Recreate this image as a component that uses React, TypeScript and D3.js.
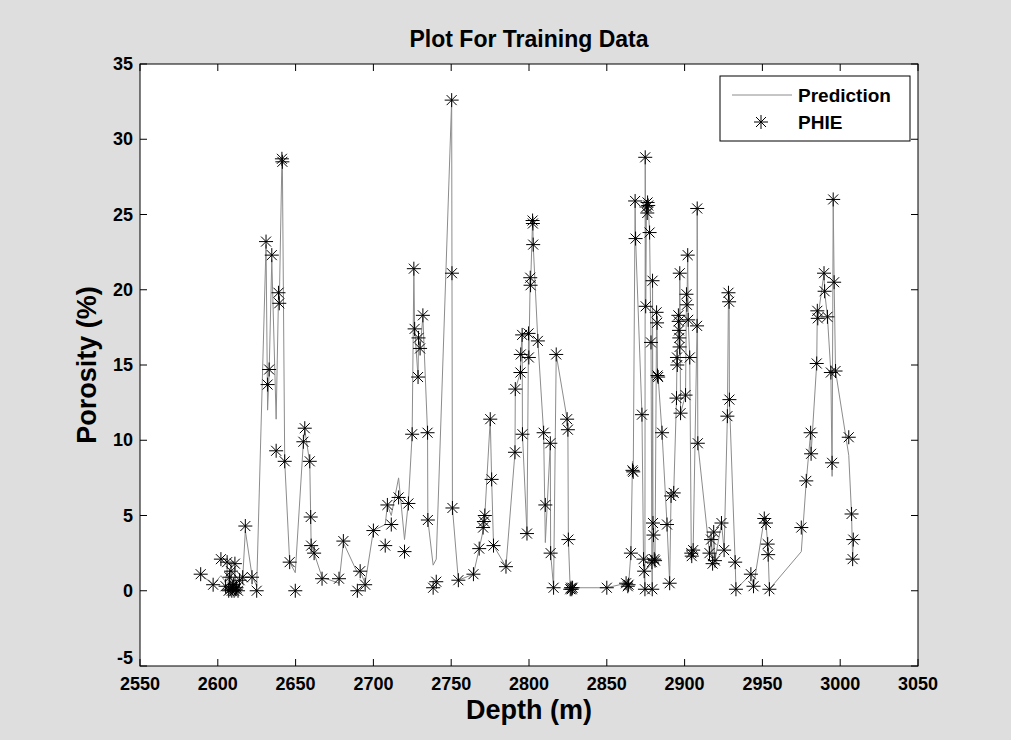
import React from "react";
import * as d3 from "d3";

// Depth (m), measured porosity (PHIE, %) and predicted porosity (%)
const depth = [
  2589, 2597, 2602, 2605, 2606, 2607, 2607.5, 2608, 2608.5, 2609, 2609.5, 2610, 2610.5, 2611, 2611.5, 2612, 2613, 2614, 2616, 2617.7,
  2622, 2625, 2631, 2632, 2633, 2634.7, 2637.5, 2639, 2639.5, 2641.2, 2641.5, 2643, 2646.2, 2649.8, 2655, 2655.9, 2659.1, 2659.7, 2660, 2661.9,
  2667, 2677.9, 2680.7, 2689.7, 2691.5, 2694.7, 2700, 2707.6, 2709, 2711.5, 2716.2, 2720, 2722.5, 2724.9, 2726, 2726.5, 2728.7, 2729, 2730, 2731.8,
  2734.8, 2735, 2738.4, 2740.4, 2750.3, 2750.5, 2750.8, 2754.6, 2764.3, 2768, 2770.5, 2771, 2771.6, 2775.1, 2776, 2777.2, 2785.2, 2791, 2791.2, 2794.5,
  2794.7, 2795.6, 2795.8, 2798.7, 2799.7, 2799.9, 2800.8, 2801, 2802.3, 2802.5, 2802.7, 2805.7, 2809.4, 2810.5, 2813.7, 2813.9, 2815.8, 2817.5, 2824.5, 2825,
  2825.3, 2826.5, 2827, 2827.5, 2828, 2850, 2862.4, 2863.5, 2864, 2865.5, 2866.5, 2867, 2868.2, 2868.5, 2872.6, 2873.6, 2874, 2874.5, 2874.7, 2875,
  2875.5, 2876, 2876.2, 2876.6, 2877.5, 2878.4, 2879, 2879.2, 2879.4, 2879.7, 2880, 2880.5, 2881, 2882, 2882.3, 2882.6, 2883, 2885.5, 2888.7, 2890.4,
  2891.3, 2893, 2894.8, 2895.1, 2895.3, 2896, 2896.2, 2896.4, 2896.6, 2896.8, 2896.9, 2897.4, 2900.6, 2901.2, 2901.5, 2902, 2902.3, 2903.3, 2904.3, 2904.6,
  2905.5, 2908, 2908.1, 2908.5, 2916, 2917, 2918, 2918.7, 2919.5, 2923.7, 2925.4, 2927.5, 2928.2, 2928.6, 2928.8, 2932.5, 2933, 2942.6, 2944.3, 2951.2,
  2952.3, 2953.4, 2953.7, 2954.5, 2975, 2978.2, 2981, 2981.3, 2984.9, 2985.3, 2985.6, 2989.6, 2990, 2991.8, 2994, 2994.8, 2995.5, 2996.1, 2997, 3005.5,
  3007.3, 3008, 3008.4,
];

const phie = [
  1.1, 0.4, 2.1, 0.3, 1.9, 0.0, 0.9, 0.1, 1.3, 0.0, 0.2, 0.4, 0.0, 1.8, 0.1, 0.2, 0.0, 0.7, 0.9, 4.3,
  0.9, 0.0, 23.2, 13.7, 14.7, 22.3, 9.3, 19.8, 19.1, 28.7, 28.5, 8.6, 1.9, 0.0, 9.9, 10.8, 8.6, 4.9, 3.0, 2.5,
  0.8, 0.8, 3.3, 0.0, 1.3, 0.4, 4.0, 3.0, 5.7, 4.4, 6.2, 2.6, 5.8, 10.4, 21.4, 17.4, 14.2, 16.8, 16.1, 18.3,
  10.5, 4.7, 0.2, 0.6, 32.6, 21.1, 5.5, 0.7, 1.1, 2.8, 4.2, 4.6, 5.0, 11.4, 7.4, 3.0, 1.6, 9.2, 13.4, 14.5,
  15.7, 17.0, 10.4, 3.8, 17.1, 15.5, 20.8, 20.3, 24.6, 24.4, 23.0, 16.6, 10.5, 5.7, 9.8, 2.5, 0.2, 15.7, 11.4, 10.7,
  3.4, 0.1, 0.2, 0.1, 0.2, 0.2, 0.5, 0.3, 0.4, 2.5, 8.0, 7.9, 25.9, 23.4, 11.7, 2.1, 1.3, 0.1, 28.8, 18.9,
  25.5, 25.1, 25.8, 25.6, 23.8, 16.5, 1.9, 0.1, 20.6, 4.5, 3.7, 2.1, 2.0, 18.5, 17.8, 14.3, 14.2, 10.5, 4.4, 0.5,
  6.3, 6.5, 12.8, 15.5, 15.0, 18.3, 17.9, 17.3, 16.8, 16.2, 21.1, 11.8, 13.0, 19.7, 19.0, 22.3, 18.0, 15.5, 2.5, 2.3,
  2.7, 17.6, 25.4, 9.8, 2.5, 3.4, 1.8, 3.9, 2.0, 4.5, 2.7, 11.6, 19.8, 19.2, 12.7, 1.9, 0.1, 1.1, 0.3, 4.8,
  4.5, 3.1, 2.4, 0.1, 4.2, 7.3, 10.5, 9.1, 15.1, 18.6, 18.1, 21.1, 19.9, 18.2, 14.5, 8.5, 26.0, 20.5, 14.6, 10.2,
  5.1, 2.1, 3.4,
];

const prediction = [
  1.1, 0.4, 1.0, 0.6, 1.4, 0.3, 1.2, 0.2, 1.0, 0.1, 0.3, 0.5, 0.2, 1.5, 0.3, 0.4, 0.2, 0.6, 0.8, 4.0,
  1.0, 0.3, 23.0, 12.0, 14.5, 22.0, 11.4, 19.5, 19.0, 28.6, 28.5, 8.6, 1.9, 1.2, 9.9, 10.7, 8.5, 4.9, 3.0, 2.5,
  0.9, 0.5, 3.2, 1.2, 1.3, 0.5, 4.0, 4.4, 5.7, 5.0, 7.5, 3.4, 5.9, 10.4, 21.3, 17.4, 14.2, 16.8, 16.1, 18.2,
  10.5, 4.7, 1.7, 2.1, 32.6, 21.1, 5.5, 0.7, 1.1, 2.8, 4.0, 4.6, 5.0, 11.4, 7.4, 3.0, 1.6, 9.2, 13.4, 14.5,
  15.7, 17.0, 10.4, 3.8, 17.1, 15.5, 20.8, 20.3, 24.6, 24.4, 23.0, 16.6, 10.5, 3.2, 9.8, 2.5, 0.2, 15.7, 11.4, 10.7,
  3.4, 0.1, 0.2, 0.1, 0.2, 0.2, 0.5, 0.3, 0.4, 2.5, 8.6, 7.9, 25.9, 23.4, 11.7, 2.1, 1.3, 0.1, 28.8, 18.9,
  25.5, 25.1, 25.8, 25.6, 23.8, 16.5, 1.9, 0.1, 20.6, 4.5, 3.7, 2.1, 2.0, 18.5, 17.8, 14.3, 14.2, 10.5, 4.4, 0.5,
  6.3, 6.5, 12.8, 15.5, 15.0, 18.3, 17.9, 17.3, 16.8, 16.2, 21.1, 11.8, 13.0, 19.7, 19.0, 22.3, 18.0, 15.5, 2.5, 2.3,
  2.7, 17.6, 25.4, 9.8, 2.5, 3.4, 1.8, 3.9, 2.0, 4.5, 2.7, 11.6, 19.8, 19.2, 12.7, 1.9, 0.1, 1.1, 0.3, 4.8,
  4.5, 3.1, 2.4, 0.1, 2.6, 7.3, 10.5, 9.1, 15.1, 18.6, 18.1, 21.1, 19.9, 18.2, 14.5, 7.6, 26.0, 20.5, 14.6, 9.0,
  5.1, 2.1, 3.4,
];

const xTicks = [2550, 2600, 2650, 2700, 2750, 2800, 2850, 2900, 2950, 3000, 3050];
const yTicks = [-5, 0, 5, 10, 15, 20, 25, 30, 35];

const W = 1011;
const H = 740;
const M = { left: 140, right: 918, top: 64, bottom: 666 };
const FONT = "'Liberation Sans', Arial, sans-serif";

function Star({ x, y }: { x: number; y: number }) {
  const a = 7;
  const b = 5;
  return (
    <g stroke="#000" strokeWidth={1}>
      <line x1={x - a} y1={y} x2={x + a} y2={y} />
      <line x1={x} y1={y - a} x2={x} y2={y + a} />
      <line x1={x - b} y1={y - b} x2={x + b} y2={y + b} />
      <line x1={x - b} y1={y + b} x2={x + b} y2={y - b} />
    </g>
  );
}

export default function App() {
  const x = d3.scaleLinear().domain([2550, 3050]).range([M.left, M.right]);
  const y = d3.scaleLinear().domain([-5, 35]).range([M.bottom, M.top]);
  const line = d3
    .line<number>()
    .x((_, i) => x(depth[i]))
    .y((d) => y(d));
  const tk = 7;

  return (
    <svg
      width={W}
      height={H}
      style={{ position: "absolute", left: 0, top: 0, display: "block" }}
      fontFamily={FONT}
    >
      <rect x={0} y={0} width={W} height={H} fill="#dedede" />
      <rect x={M.left} y={M.top} width={M.right - M.left} height={M.bottom - M.top} fill="#fff" />
      <path d={line(prediction) || ""} fill="none" stroke="#8c8c8c" strokeWidth={1} />
      {phie.map((v, i) => (
        <Star key={i} x={x(depth[i])} y={y(v)} />
      ))}
      <rect
        x={M.left}
        y={M.top}
        width={M.right - M.left}
        height={M.bottom - M.top}
        fill="none"
        stroke="#000"
        strokeWidth={1}
      />
      {xTicks.map((t) => (
        <g key={"x" + t}>
          <line x1={x(t)} x2={x(t)} y1={M.bottom} y2={M.bottom - tk} stroke="#000" />
          <line x1={x(t)} x2={x(t)} y1={M.top} y2={M.top + tk} stroke="#000" />
          <text x={x(t)} y={690} textAnchor="middle" fontSize={18} fontWeight="bold">
            {t}
          </text>
        </g>
      ))}
      {yTicks.map((t) => (
        <g key={"y" + t}>
          <line x1={M.left} x2={M.left + tk} y1={y(t)} y2={y(t)} stroke="#000" />
          <line x1={M.right} x2={M.right - tk} y1={y(t)} y2={y(t)} stroke="#000" />
          <text
            x={133}
            y={t === -5 ? y(t) - 2 : y(t) + 6}
            textAnchor="end"
            fontSize={18}
            fontWeight="bold"
          >
            {t}
          </text>
        </g>
      ))}
      <text x={(M.left + M.right) / 2} y={47} textAnchor="middle" fontSize={23} fontWeight="bold">
        Plot For Training Data
      </text>
      <text x={(M.left + M.right) / 2} y={719} textAnchor="middle" fontSize={27} fontWeight="bold">
        Depth (m)
      </text>
      <text
        transform={`translate(96, ${(M.top + M.bottom) / 2}) rotate(-90)`}
        textAnchor="middle"
        fontSize={27}
        fontWeight="bold"
      >
        Porosity (%)
      </text>
      <g>
        <rect x={720} y={76} width={190} height={65} fill="#fff" stroke="#000" strokeWidth={1} />
        <line x1={732} x2={792} y1={95} y2={95} stroke="#8c8c8c" strokeWidth={1} />
        <text x={798} y={102} fontSize={19} fontWeight="bold">
          Prediction
        </text>
        <Star x={761} y={122} />
        <text x={798} y={129} fontSize={19} fontWeight="bold">
          PHIE
        </text>
      </g>
    </svg>
  );
}
